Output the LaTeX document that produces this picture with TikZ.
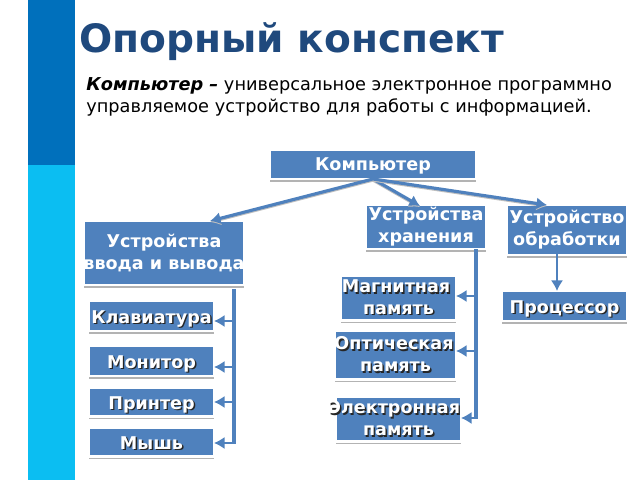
\documentclass[tikz,border=0pt]{standalone}
\usepackage{fontspec}
\setmainfont{DejaVu Sans}
\usetikzlibrary{shadows,arrows.meta}
\definecolor{boxblue}{HTML}{4F81BD}
\definecolor{titleblue}{HTML}{1F497D}
\definecolor{stripdark}{HTML}{0070BC}
\definecolor{striplight}{HTML}{0BBEF2}
\newcommand{\shtxt}[1]{\leavevmode\rlap{\raisebox{-0.8pt}{\kern0.8pt\textcolor{black!85}{#1}}}#1}
\tikzset{
  box/.style={fill=boxblue, draw=white, line width=1.2pt, text=white, font=\fontsize{10}{12.5}\selectfont\bfseries,
    align=center, inner sep=0pt, outer sep=0pt, drop shadow={shadow xshift=0pt, shadow yshift=-1.6pt, opacity=0.6, fill=gray}},
  single/.style={text height=8pt, text depth=0pt},
  link/.style={-{Latex[length=6pt,width=7pt]}, boxblue, line width=1.8pt, preaction={draw=gray!50, line width=1.8pt, transform canvas={yshift=-0.6pt}}},
  bus/.style={boxblue, line width=1.8pt},
  sublink/.style={-{Latex[length=6pt,width=7pt]}, boxblue, line width=1.6pt}
}
\begin{document}
\begin{tikzpicture}[x=0.02cm, y=-0.02cm]
      \useasboundingbox (0,0) rectangle (640,480);
      \fill[stripdark] (28,0) rectangle (75,165);
      \fill[striplight] (28,165) rectangle (75,480);

      \node[anchor=base west, inner sep=0pt, text=titleblue, font=\fontsize{22.25}{28}\selectfont\bfseries] (title) at (79,52) {Опорный конспект};
      \node[anchor=north west, inner sep=0pt, font=\fontsize{10.1}{12.5}\selectfont, align=left] (defn) at (86,77)
        {\textbf{\textit{Компьютер –}} универсальное электронное программно\\управляемое устройство для работы с информацией.};

      \node[box, text height=6.8pt, text depth=0pt, minimum width=206*0.02cm, minimum height=29*0.02cm] (komp) at (373,164.5) {Компьютер};
      \node[box, minimum width=120*0.02cm, minimum height=44*0.02cm] (hran) at (426,227) {Устройства\\хранения};
      \node[box, minimum width=120*0.02cm, minimum height=50*0.02cm] (obrab) at (567,230) {Устройство\\обработки};
      \node[box, minimum width=160*0.02cm, minimum height=64*0.02cm] (vvod) at (164,253) {Устройства\\\clap{ввода и вывода}};

      \node[box, single, minimum width=125*0.02cm, minimum height=30*0.02cm] (klav) at (151.5,316) {\shtxt{Клавиатура}};
      \node[box, single, minimum width=125*0.02cm, minimum height=30*0.02cm] (monitor) at (151.5,361) {\shtxt{Монитор}};
      \node[box, single, minimum width=125*0.02cm, minimum height=29*0.02cm] (printer) at (151.5,402) {\shtxt{Принтер}};
      \node[box, single, minimum width=125*0.02cm, minimum height=29*0.02cm] (mouse) at (151.5,442) {\shtxt{Мышь}};

      \node[box, minimum width=115*0.02cm, minimum height=45*0.02cm] (magn) at (398.5,298) {\clap{\shtxt{Магнитная}\kern2.8pt}\\\shtxt{память}};
      \node[box, minimum width=121*0.02cm, minimum height=49*0.02cm] (opt) at (395.5,355) {\clap{\shtxt{Оптическая}\kern1.7pt}\\\shtxt{память}};
      \node[box, minimum width=125*0.02cm, minimum height=45*0.02cm] (elec) at (398.5,419) {\clap{\shtxt{Электронная}\kern5pt}\\\shtxt{память}};
      \node[box, single, minimum width=125*0.02cm, minimum height=30*0.02cm] (proc) at (564.5,306) {\shtxt{Процессор}};

      \coordinate (vvodin) at (210,221);
      \coordinate (hranin) at (420,206);
      \coordinate (obrabin) at (547,205);
      \draw[link] (komp.south) -- (vvodin);
      \draw[link] (komp.south) -- (hranin);
      \draw[link] (komp.south) -- (obrabin);
      \coordinate (obrabout) at (557,254);
      \coordinate (procin) at (557,291);
      \draw[sublink] (obrabout) -- (procin);

      % left column
      \coordinate (lefttop) at (234,289);
      \coordinate (leftend) at (234,444);
      \draw[bus] (lefttop) -- (leftend);
      \coordinate (klavbus) at (234,321);
      \coordinate (monbus) at (234,367);
      \coordinate (prnbus) at (234,402);
      \coordinate (mousebus) at (234,443);
      \draw[sublink] (klavbus) -- (klavbus -| klav.east);
      \draw[sublink] (monbus) -- (monbus -| monitor.east);
      \draw[sublink] (prnbus) -- (prnbus -| printer.east);
      \draw[sublink] (mousebus) -- (mousebus -| mouse.east);

      % right column
      \coordinate (rightend) at (476,419);
      \draw[bus] (hran.south -| rightend) -- (rightend);
      \coordinate (magnbus) at (476,296);
      \coordinate (optbus) at (476,351);
      \coordinate (elecbus) at (476,418);
      \draw[sublink] (magnbus) -- (magnbus -| magn.east);
      \draw[sublink] (optbus) -- (optbus -| opt.east);
      \draw[sublink] (elecbus) -- (elecbus -| elec.east);
\end{tikzpicture}
\end{document}
